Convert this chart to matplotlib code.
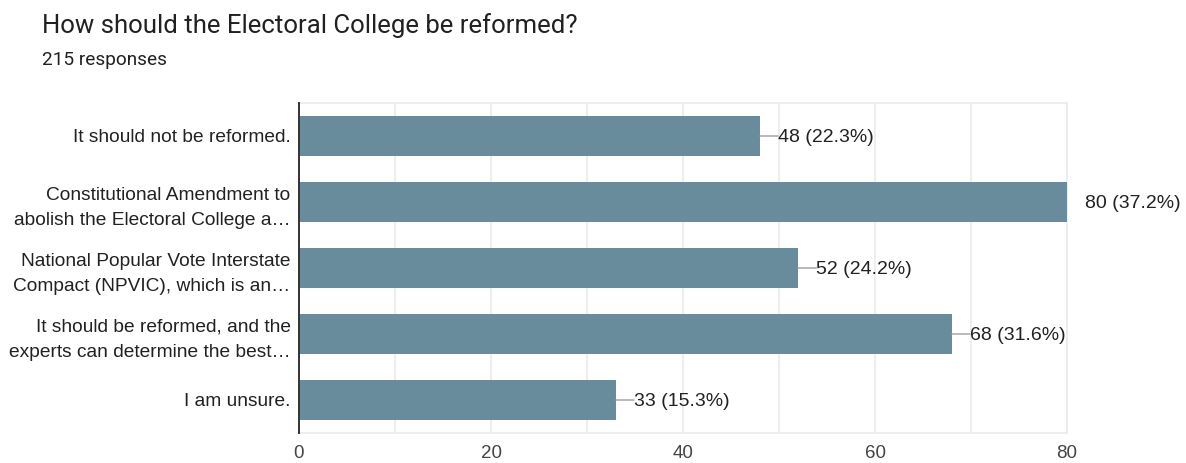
import matplotlib.pyplot as plt
import numpy as np

plt.rcParams['font.family'] = ['Liberation Sans', 'DejaVu Sans']

answers = [
    "It should not be reformed.",
    "Constitutional Amendment to\nabolish the Electoral College a…",
    "National Popular Vote Interstate\nCompact (NPVIC), which is an…",
    "It should be reformed, and the\nexperts can determine the best…",
    "I am unsure.",
]
counts = [48, 80, 52, 68, 33]
percents = [22.3, 37.2, 24.2, 31.6, 15.3]
xticks = [0, 20, 40, 60, 80]
xmax = 80

bar_color = "#688c9c"
text_color = "#212121"

fig = plt.figure(figsize=(11.86, 4.63), dpi=100)
ax = fig.add_axes([299 / 1186, 30 / 463, 768 / 1186, 330 / 463])

y = np.arange(len(answers))
ax.barh(y, counts, height=0.61, color=bar_color, zorder=3)

ax.set_xlim(0, xmax)
ax.set_ylim(len(answers) - 0.5, -0.5)
ax.set_xticks(xticks)
ax.set_xticks(np.arange(0, xmax + 1, 10), minor=True)
ax.grid(axis="x", which="both", color="#ebebeb", linewidth=1.2, zorder=0)
ax.tick_params(axis="x", which="both", length=0, pad=9, labelsize=13.5, labelcolor="#444444")
ax.tick_params(axis="y", length=0, pad=6, labelsize=13.8, labelcolor=text_color)
ax.set_yticks(y)
ax.set_yticklabels(answers, linespacing=1.65)

for side in ["top", "right", "bottom"]:
    ax.spines[side].set_color("#ebebeb")
    ax.spines[side].set_linewidth(1.2)
ax.spines["left"].set_color("#333333")
ax.spines["left"].set_linewidth(1.4)
ax.spines["left"].set_zorder(4)

# value labels with a short leader line from the bar end
for yi, c, p in zip(y, counts, percents):
    if c < xmax:
        ax.annotate("", xy=(c, yi), xytext=(c + 1.9, yi),
                    arrowprops=dict(arrowstyle="-", color="#9e9e9e", lw=1,
                                    shrinkA=0, shrinkB=0),
                    annotation_clip=False, zorder=4)
    ax.text(c + 1.9, yi, f"{c} ({p}%)", va="center_baseline", ha="left",
            fontsize=14, color=text_color, clip_on=False)

fig.text(42 / 1186, 1 - 26 / 463, "How should the Electoral College be reformed?",
         fontsize=18.5, color=text_color, va="center", ha="left",
         family=["Roboto", "DejaVu Sans"])
fig.text(42 / 1186, 1 - 60 / 463, "215 responses",
         fontsize=13.7, color=text_color, va="center", ha="left",
         family=["Roboto", "DejaVu Sans"])

fig.savefig("out.png", dpi=100, facecolor="white")
